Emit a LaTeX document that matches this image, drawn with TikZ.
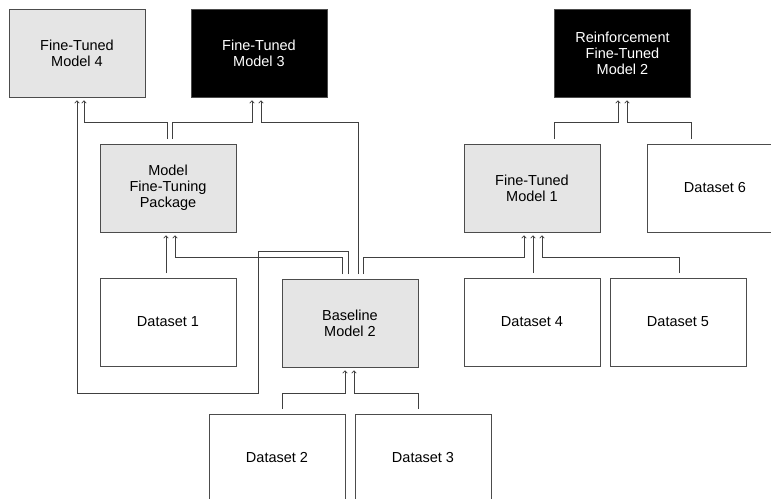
\documentclass[tikz,border=0pt]{standalone}
\usepackage{fontspec}
\setmainfont{Liberation Sans}
\usetikzlibrary{arrows.meta}
\begin{document}
\begin{tikzpicture}[x=1pt, y=-1pt,
	box/.style={draw=black!70, line width=0.8pt, minimum width=136pt, minimum height=88pt, inner sep=0pt, align=center, font=\fontsize{14.5}{16}\selectfont},
	lightbox/.style={box, fill=black!10},
	darkbox/.style={box, fill=black, text=white},
	link/.style={draw=black!75, line width=0.8pt, -{To[length=3pt,width=5pt]}, shorten <=4.5pt, shorten >=3pt}]
	\useasboundingbox (0,0) rectangle (771,498);
	\clip (0,0) rectangle (771,498);
	\node[lightbox] (ft4) at (77,53) {Fine-Tuned\\Model 4};
	\node[darkbox] (ft3) at (259,53) {Fine-Tuned\\Model 3};
	\node[darkbox] (rf2) at (622.5,53) {Reinforcement\\Fine-Tuned\\Model 2};
	\node[lightbox] (mftp) at (168,188) {Model\\Fine-Tuning\\Package};
	\node[lightbox] (ft1) at (532,188) {Fine-Tuned\\Model 1};
	\node[box, fill=white] (ds6) at (715,188) {Dataset 6};
	\node[box, fill=white] (ds1) at (168,322) {Dataset 1};
	\node[lightbox] (bm2) at (350,323) {Baseline\\Model 2};
	\node[box, fill=white] (ds4) at (532,322) {Dataset 4};
	\node[box, fill=white] (ds5) at (678,322) {Dataset 5};
	\node[box, fill=white] (ds2) at (277,458) {Dataset 2};
	\node[box, fill=white] (ds3) at (423,458) {Dataset 3};

	\draw[link] ([xshift=-2pt]ds1.north) -- ([xshift=-2pt]mftp.south);
	\draw[link] ([xshift=-8pt]bm2.north) |- ([xshift=7pt,yshift=-25pt]mftp.south) -- ([xshift=7pt]mftp.south);
	\draw[link] ([xshift=-2pt]bm2.north) |- (258,251) |- (77,393) -- (ft4.south);
	\draw[link] ([xshift=8pt]bm2.north) |- ([xshift=2pt,yshift=-25pt]ft3.south) -- ([xshift=2pt]ft3.south);
	\draw[link] ([xshift=13pt]bm2.north) |- ([xshift=-8pt,yshift=-25pt]ft1.south) -- ([xshift=-8pt]ft1.south);
	\draw[link] ([xshift=-1pt]mftp.north) |- ([xshift=7pt,yshift=-25pt]ft4.south) -- ([xshift=7pt]ft4.south);
	\draw[link] ([xshift=4pt]mftp.north) |- ([xshift=-7pt,yshift=-25pt]ft3.south) -- ([xshift=-7pt]ft3.south);
	\draw[link] ([xshift=1pt]ds4.north) -- ([xshift=1pt]ft1.south);
	\draw[link] ([xshift=1pt]ds5.north) |- ([xshift=10pt,yshift=-25pt]ft1.south) -- ([xshift=10pt]ft1.south);
	\draw[link] ([xshift=5pt]ds2.north) |- ([xshift=-5pt,yshift=-26pt]bm2.south) -- ([xshift=-5pt]bm2.south);
	\draw[link] ([xshift=-5pt]ds3.north) |- ([xshift=4pt,yshift=-26pt]bm2.south) -- ([xshift=4pt]bm2.south);
	\draw[link] ([xshift=22pt]ft1.north) |- ([xshift=-4.5pt,yshift=-25pt]rf2.south) -- ([xshift=-4.5pt]rf2.south);
	\draw[link] ([xshift=-24pt]ds6.north) |- ([xshift=4.5pt,yshift=-25pt]rf2.south) -- ([xshift=4.5pt]rf2.south);
\end{tikzpicture}
\end{document}
